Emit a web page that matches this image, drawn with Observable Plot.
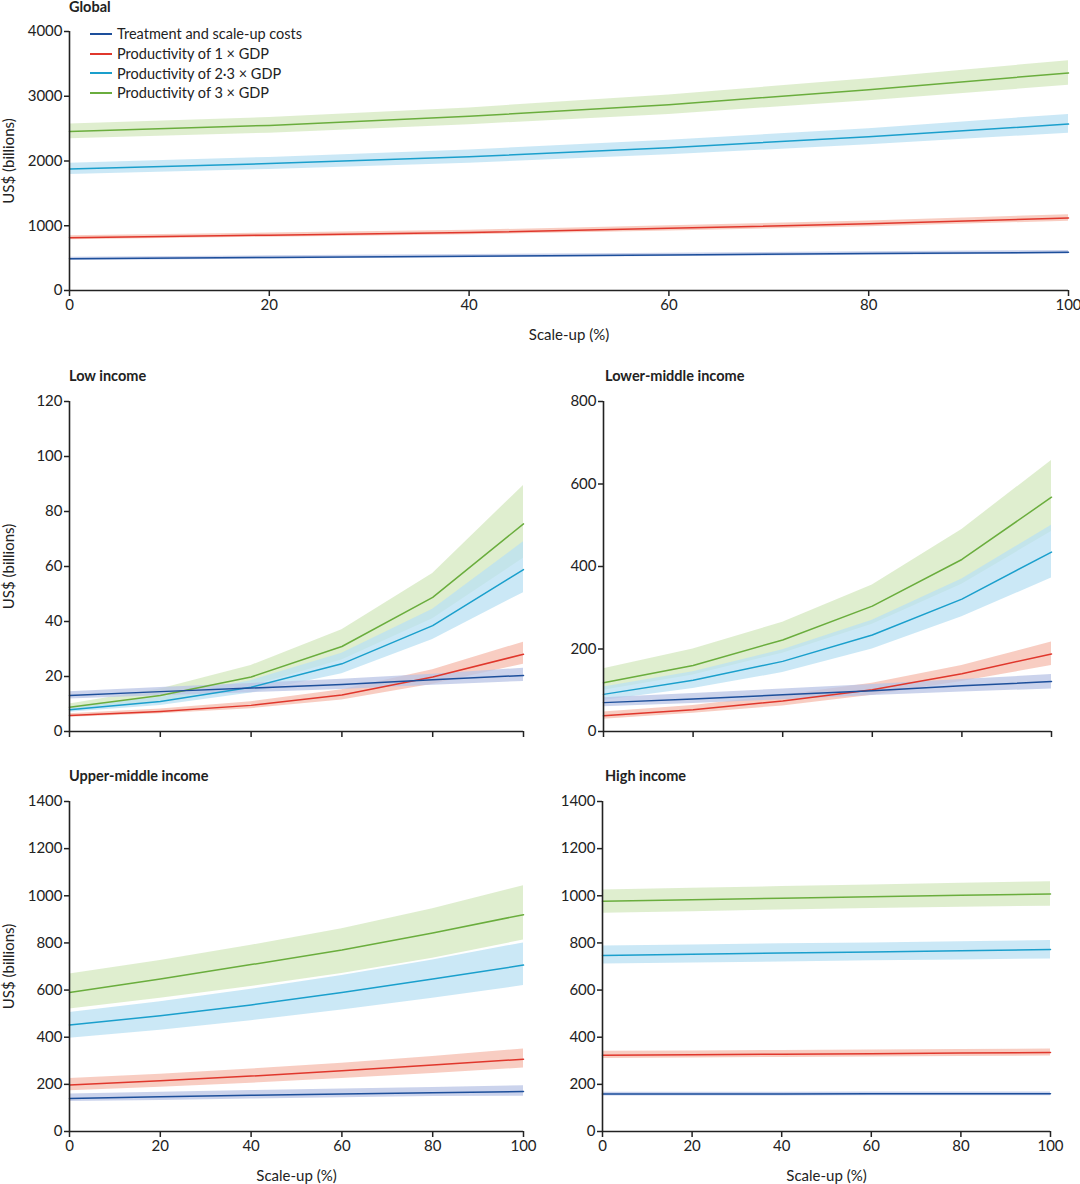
<!DOCTYPE html>
<html>
<head>
<meta charset="utf-8">
<script src="https://cdn.jsdelivr.net/npm/d3@7"></script>
<script src="https://cdn.jsdelivr.net/npm/@observablehq/plot@0.6"></script>
<style>
  html, body { margin: 0; padding: 0; background: #fff; }
  body { width: 1080px; height: 1184px; position: relative; font-family: Lato, "Open Sans", sans-serif; color: #222; overflow: hidden; }
  .panel { position: absolute; }
  .title { position: absolute; font-weight: bold; font-size: 14.5px; color: #222; white-space: nowrap; }
  .legend { position: absolute; left: 90px; top: 24px; font-size: 14.5px; color: #222; }
  .legend .row { display: flex; align-items: center; height: 19.7px; }
  .legend .sw { width: 22px; height: 2px; margin-right: 5px; }
</style>
</head>
<body>
<script>
// ---- Data ----
const scaleUp = [0, 20, 40, 60, 80, 100];
const seriesNames = ["Treatment and scale-up costs", "Productivity of 1 × GDP", "Productivity of 2·3 × GDP", "Productivity of 3 × GDP"];

// Global
const globalTreat   = [490, 510, 530, 550, 570, 590];
const globalTreatLo = [465, 485, 505, 524, 544, 563];
const globalTreatHi = [515, 535, 556, 577, 597, 618];
const globalP1   = [815, 855, 895, 960, 1030, 1120];
const globalP1Lo = [785, 823, 860, 920, 985, 1070];
const globalP1Hi = [845, 887, 930, 1000, 1075, 1170];
const globalP23   = [1875, 1960, 2065, 2205, 2375, 2570];
const globalP23Lo = [1790, 1870, 1965, 2095, 2250, 2430];
const globalP23Hi = [1965, 2055, 2170, 2320, 2500, 2720];
const globalP3   = [2455, 2550, 2690, 2870, 3100, 3360];
const globalP3Lo = [2345, 2430, 2560, 2720, 2930, 3170];
const globalP3Hi = [2570, 2670, 2820, 3020, 3270, 3550];

// Low income
const lowTreat   = [13.1, 14.5, 15.8, 17.1, 18.8, 20.4];
const lowTreatLo = [11.8, 13.0, 14.1, 15.3, 16.8, 18.2];
const lowTreatHi = [14.5, 16.0, 17.5, 19.0, 20.8, 23.0];
const lowP1   = [5.8, 7.3, 9.5, 13.3, 19.8, 28.1];
const lowP1Lo = [5.2, 6.5, 8.3, 11.5, 17.2, 24.5];
const lowP1Hi = [6.5, 8.2, 10.8, 15.2, 22.5, 32.5];
const lowP23   = [7.9, 10.9, 16.1, 24.6, 38.5, 58.9];
const lowP23Lo = [7.0, 9.5, 14.0, 21.0, 33.5, 50.5];
const lowP23Hi = [9.0, 12.5, 18.5, 28.5, 44.5, 69.0];
const lowP3   = [8.8, 13.1, 19.8, 30.9, 48.8, 75.5];
const lowP3Lo = [7.5, 11.0, 16.5, 26.0, 41.0, 63.0];
const lowP3Hi = [10.0, 15.5, 24.0, 37.0, 57.5, 89.5];

// Lower-middle income
const lmTreat   = [70, 79, 89, 99, 111, 121];
const lmTreatLo = [60, 68, 77, 87, 96, 103];
const lmTreatHi = [82, 92, 103, 114, 126, 138];
const lmP1   = [38, 53, 74, 101, 140, 188];
const lmP1Lo = [30, 44, 62, 88, 121, 160];
const lmP1Hi = [47, 63, 88, 117, 160, 217];
const lmP23   = [90, 124, 170, 234, 321, 435];
const lmP23Lo = [75, 104, 143, 200, 278, 372];
const lmP23Hi = [108, 145, 198, 270, 370, 500];
const lmP3   = [118, 160, 222, 304, 417, 568];
const lmP3Lo = [100, 137, 190, 260, 357, 485];
const lmP3Hi = [152, 200, 265, 355, 490, 657];

// Upper-middle income
const umTreat   = [140, 147, 154, 159, 164, 170];
const umTreatLo = [127, 132, 138, 143, 148, 150];
const umTreatHi = [159, 166, 174, 180, 187, 194];
const umP1   = [197, 215, 235, 258, 282, 307];
const umP1Lo = [173, 188, 205, 225, 246, 269];
const umP1Hi = [225, 243, 265, 290, 318, 350];
const umP23   = [452, 491, 537, 590, 647, 706];
const umP23Lo = [396, 430, 470, 515, 565, 619];
const umP23Hi = [505, 550, 603, 662, 728, 800];
const umP3   = [590, 647, 708, 770, 842, 920];
const umP3Lo = [520, 565, 615, 670, 735, 812];
const umP3Hi = [668, 725, 790, 860, 945, 1043];

// High income
const hiTreat   = [159, 159, 159, 160, 160, 160];
const hiTreatLo = [151, 151, 151, 152, 152, 152];
const hiTreatHi = [167, 167, 167, 168, 168, 168];
const hiP1   = [324, 326, 328, 330, 333, 335];
const hiP1Lo = [310, 312, 314, 316, 318, 320];
const hiP1Hi = [340, 342, 344, 346, 348, 350];
const hiP23   = [747, 752, 757, 762, 767, 772];
const hiP23Lo = [711, 715, 719, 724, 728, 732];
const hiP23Hi = [787, 791, 796, 800, 805, 810];
const hiP3   = [977, 983, 990, 996, 1002, 1008];
const hiP3Lo = [926, 932, 940, 946, 951, 956];
const hiP3Hi = [1025, 1032, 1039, 1046, 1053, 1060];

// Tick labels
const globalYTicks = [0, 1000, 2000, 3000, 4000];
const lowYTicks = [0, 20, 40, 60, 80, 100, 120];
const lmYTicks = [0, 200, 400, 600, 800];
const umYTicks = [0, 200, 400, 600, 800, 1000, 1200, 1400];
const xTicks = [0, 20, 40, 60, 80, 100];

// ---- Styles ----
const lineColors = ["#1d4f9b", "#e0372c", "#1a9fcc", "#6aad3d"];
const bandColors = ["#b9c4e6", "#f6bcae", "#b9e0f3", "#d4e8bf"];

function buildRows(series) {
  const rows = [];
  series.forEach(([mid, lo, hi], k) => {
    scaleUp.forEach((x, i) => rows.push({x, y: mid[i], lo: lo[i], hi: hi[i], s: seriesNames[k]}));
  });
  return rows;
}

function panel({left, top, width, height, mL, mR, mT, mB, yMax, yTicks, series, showXLabels, yLabel}) {
  const rows = buildRows(series);
  const order = [3, 2, 1, 0];
  const marks = [];
  for (const k of order) {
    marks.push(Plot.areaY(rows.filter(d => d.s === seriesNames[k]), {x: "x", y1: "lo", y2: "hi", fill: bandColors[k], fillOpacity: 0.75}));
  }
  for (const k of order) {
    marks.push(Plot.lineY(rows.filter(d => d.s === seriesNames[k]), {x: "x", y: "y", stroke: lineColors[k], strokeWidth: 1.5}));
  }
  marks.push(Plot.axisX({ticks: xTicks, tickSize: 6, tickPadding: 3, stroke: "#222", strokeWidth: 1.5,
    tickFormat: showXLabels ? (d => String(d)) : (() => ""),
    label: showXLabels ? "Scale-up (%)" : null, labelAnchor: "center", labelOffset: 49, labelArrow: "none"}));
  marks.push(Plot.axisY({ticks: yTicks, tickSize: 5, tickPadding: 2, stroke: "#222", strokeWidth: 1.5,
    tickFormat: d => String(d),
    label: yLabel, labelAnchor: "center", labelOffset: 66, labelArrow: "none"}));
  marks.push(Plot.ruleX([0], {stroke: "#222", strokeWidth: 1.6}));
  marks.push(Plot.ruleY([0], {stroke: "#222", strokeWidth: 1.6}));
  const svg = Plot.plot({
    width, height,
    marginLeft: mL, marginRight: mR, marginTop: mT, marginBottom: mB,
    style: {fontFamily: "Lato, 'Open Sans', sans-serif", fontSize: "15px", color: "#222", background: "transparent", overflow: "visible"},
    x: {domain: [0, 100], label: null},
    y: {domain: [0, yMax], label: null},
    marks
  });
  const div = document.createElement("div");
  div.className = "panel";
  div.style.left = left + "px";
  div.style.top = top + "px";
  div.appendChild(svg);
  document.body.appendChild(div);
}

function title(text, left, top) {
  const d = document.createElement("div");
  d.className = "title";
  d.textContent = text;
  d.style.left = left + "px";
  d.style.top = top + "px";
  document.body.appendChild(d);
}

// Global
panel({left: 0, top: 0, width: 1080, height: 345, mL: 69, mR: 12, mT: 31, mB: 55, yMax: 4000, yTicks: globalYTicks,
  series: [[globalTreat, globalTreatLo, globalTreatHi], [globalP1, globalP1Lo, globalP1Hi], [globalP23, globalP23Lo, globalP23Hi], [globalP3, globalP3Lo, globalP3Hi]],
  showXLabels: true, yLabel: "US$ (billions)"});
// Low income
panel({left: 0, top: 370, width: 540, height: 380, mL: 69, mR: 17, mT: 31, mB: 19, yMax: 120, yTicks: lowYTicks,
  series: [[lowTreat, lowTreatLo, lowTreatHi], [lowP1, lowP1Lo, lowP1Hi], [lowP23, lowP23Lo, lowP23Hi], [lowP3, lowP3Lo, lowP3Hi]],
  showXLabels: false, yLabel: "US$ (billions)"});
// Lower-middle income
panel({left: 540, top: 370, width: 540, height: 380, mL: 63, mR: 29, mT: 31, mB: 19, yMax: 800, yTicks: lmYTicks,
  series: [[lmTreat, lmTreatLo, lmTreatHi], [lmP1, lmP1Lo, lmP1Hi], [lmP23, lmP23Lo, lmP23Hi], [lmP3, lmP3Lo, lmP3Hi]],
  showXLabels: false, yLabel: null});
// Upper-middle income
panel({left: 0, top: 760, width: 540, height: 424, mL: 69, mR: 17, mT: 41, mB: 53, yMax: 1400, yTicks: umYTicks,
  series: [[umTreat, umTreatLo, umTreatHi], [umP1, umP1Lo, umP1Hi], [umP23, umP23Lo, umP23Hi], [umP3, umP3Lo, umP3Hi]],
  showXLabels: true, yLabel: "US$ (billions)"});
// High income
panel({left: 540, top: 760, width: 540, height: 424, mL: 62, mR: 30, mT: 41, mB: 53, yMax: 1400, yTicks: umYTicks,
  series: [[hiTreat, hiTreatLo, hiTreatHi], [hiP1, hiP1Lo, hiP1Hi], [hiP23, hiP23Lo, hiP23Hi], [hiP3, hiP3Lo, hiP3Hi]],
  showXLabels: true, yLabel: null});

title("Global", 69, -2);
title("Low income", 69, 367);
title("Lower-middle income", 605, 367);
title("Upper-middle income", 69, 767);
title("High income", 605, 767);

// Legend
const leg = document.createElement("div");
leg.className = "legend";
seriesNames.forEach((name, k) => {
  const r = document.createElement("div");
  r.className = "row";
  const sw = document.createElement("div");
  sw.className = "sw";
  sw.style.background = lineColors[k];
  const t = document.createElement("span");
  t.textContent = name;
  r.appendChild(sw);
  r.appendChild(t);
  leg.appendChild(r);
});
document.body.appendChild(leg);
</script>
</body>
</html>
